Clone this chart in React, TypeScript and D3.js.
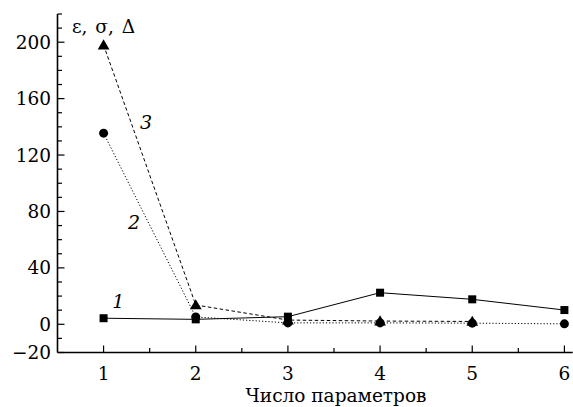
import React from "react";
import * as d3 from "d3";

const xs = [1, 2, 3, 4, 5, 6];
const series1 = [4.3, 3.5, 5.4, 22.4, 17.7, 10.1]; // squares, solid
const series2 = [135.5, 5.2, 1, 1, 0.8, 0.3]; // circles, dotted
const series3 = [198, 13.7, 3, 2.3, 2]; // triangles, dashed
const yTickLabels = [-20, 0, 40, 80, 120, 160, 200];
const xTickLabels = [1, 2, 3, 4, 5, 6];
const curveLabels = [
  { text: "1", x: 1.16, y: 16 },
  { text: "2", x: 1.33, y: 72 },
  { text: "3", x: 1.46, y: 143 },
];

const W = 573;
const H = 407;
const FONT = "DejaVu Serif";

const App = () => {
  const x = d3.scaleLinear().domain([0.5, 6.09]).range([57.5, 572.7]);
  const y = d3.scaleLinear().domain([-20, 220]).range([352.5, 14]);

  const line = d3
    .line<number>()
    .x((_, i) => x(xs[i]))
    .y((d) => y(d));

  const minorY = d3.range(-20, 221, 10);
  const minorX = d3.range(1, 6.1, 0.5);
  const tri = d3.symbol().type(d3.symbolTriangle).size(60)();

  return (
    <div style={{ position: "fixed", left: 0, top: 0, width: W, height: H, background: "#fff" }}>
      <svg width={W} height={H} fontFamily={FONT}>
        {/* axes */}
        <line x1={x.range()[0]} x2={x.range()[0]} y1={y(220)} y2={y(-20)} stroke="#000" strokeWidth={1.6} />
        <line x1={x.range()[0]} x2={x.range()[1]} y1={y(-20)} y2={y(-20)} stroke="#000" strokeWidth={1.6} />

        {minorY.map((v) => {
          const major = yTickLabels.includes(v);
          return (
            <line
              key={"yt" + v}
              x1={x.range()[0]}
              x2={x.range()[0] + (major ? 7 : 4.5)}
              y1={y(v)}
              y2={y(v)}
              stroke="#000"
              strokeWidth={1.2}
            />
          );
        })}
        {yTickLabels.map((v) => (
          <text key={"yl" + v} x={51} y={y(v)} dy="0.35em" textAnchor="end" fontFamily={FONT} fontSize={18.5}>
            {v < 0 ? "\u2212" + Math.abs(v) : v}
          </text>
        ))}

        {minorX.map((v) => {
          const major = Number.isInteger(v);
          return (
            <line
              key={"xt" + v}
              x1={x(v)}
              x2={x(v)}
              y1={y(-20)}
              y2={y(-20) - (major ? 7 : 4.5)}
              stroke="#000"
              strokeWidth={1.2}
            />
          );
        })}
        {xTickLabels.map((v) => (
          <text key={"xl" + v} x={x(v)} y={380} textAnchor="middle" fontFamily={FONT} fontSize={18.5}>
            {v}
          </text>
        ))}

        <text x={336} y={402} textAnchor="middle" fontFamily={FONT} fontSize={18.5}>
          Число параметров
        </text>
        <text x={72} y={33} fontFamily={FONT} fontSize={18.5} wordSpacing={2}>
          ε, σ, Δ
        </text>

        {/* lines */}
        <path d={line(series1) || ""} fill="none" stroke="#000" strokeWidth={1} />
        <path d={line(series2) || ""} fill="none" stroke="#000" strokeWidth={1} strokeDasharray="1.2,2" />
        <path d={line(series3) || ""} fill="none" stroke="#000" strokeWidth={1} strokeDasharray="3.5,2.5" />

        {/* markers */}
        {series1.map((v, i) => (
          <rect key={"s" + i} x={x(xs[i]) - 4} y={y(v) - 4} width={8} height={8} fill="#000" />
        ))}
        {series2.map((v, i) => (
          <circle key={"c" + i} cx={x(xs[i])} cy={y(v)} r={4.5} fill="#000" />
        ))}
        {series3.map((v, i) => (
          <path key={"t" + i} d={tri || ""} transform={`translate(${x(xs[i])},${y(v) + 1})`} fill="#000" />
        ))}

        {curveLabels.map((c) => (
          <text
            key={c.text}
            x={x(c.x)}
            y={y(c.y)}
            dy="0.35em"
            textAnchor="middle"
            fontFamily={FONT}
            fontStyle="italic"
            fontSize={19}
          >
            {c.text}
          </text>
        ))}
      </svg>
    </div>
  );
};

export default App;
